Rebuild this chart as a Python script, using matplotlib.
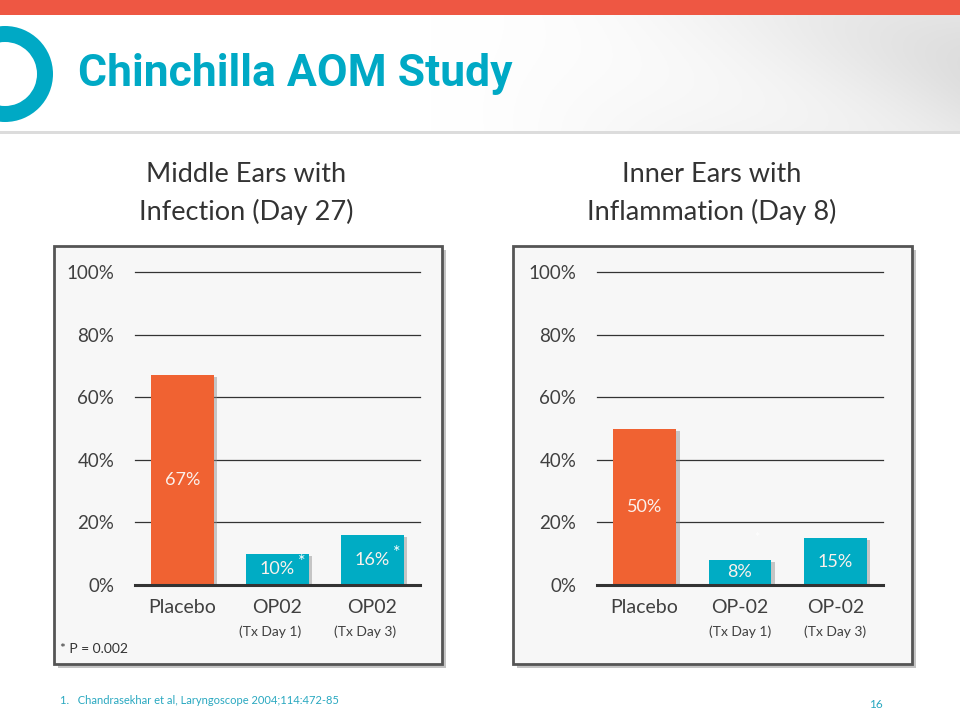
import numpy as np
import matplotlib
matplotlib.use("Agg")
import matplotlib.pyplot as plt
from matplotlib import font_manager
from matplotlib.patches import Rectangle, Wedge
import matplotlib.patheffects as pe

# ---------------- data ----------------
left_title = "Middle Ears with\nInfection (Day 27)"
right_title = "Inner Ears with\nInflammation (Day 8)"
left_categories = ["Placebo", "OP02", "OP02"]
right_categories = ["Placebo", "OP-02", "OP-02"]
sub_labels = ["", "(Tx Day 1)", "(Tx Day 3)"]
left_values = [67, 10, 16]
right_values = [50, 8, 15]
left_marks = ["", "*", "*"]
right_marks = ["", "", ""]
yticks = [0, 20, 40, 60, 80, 100]
ytick_labels = ["0%", "20%", "40%", "60%", "80%", "100%"]
bar_colors = ["#F06232", "#00ACC4", "#00ACC4"]
slide_title = "Chinchilla AOM Study"
footnote = "1.   Chandrasekhar et al, Laryngoscope 2004;114:472-85"
pnote = "* P = 0.002"
page_no = "16"

names = {f.name for f in font_manager.fontManager.ttflist}
BODY = "Lato" if "Lato" in names else "DejaVu Sans"
if "Liberation Sans Narrow" in names:
    TITLE_FONT, TITLE_SIZE = "Liberation Sans Narrow", 36
else:
    TITLE_FONT, TITLE_SIZE = "Roboto", 32
plt.rcParams["font.family"] = [BODY, "DejaVu Sans"]

W, H = 960, 720
fig = plt.figure(figsize=(9.6, 7.2), dpi=100)
fig.patch.set_facecolor("white")

# background axes in pixel coordinates
bg = fig.add_axes([0, 0, 1, 1])
bg.set_xlim(0, W)
bg.set_ylim(H, 0)
bg.axis("off")
bg.set_zorder(-10)

# header gradient swoosh
gx = np.linspace(0, 1, 400)
gy = np.linspace(0, 1, 60)
X, Y = np.meshgrid(gx, gy)
shade = np.clip((X - 0.45) / 0.55, 0, 1) ** 1.5
band = 0.5 + 0.5 * np.sin((X * 3.0 - Y * 1.2) * np.pi)
val = 1 - 0.13 * shade * (0.6 + 0.4 * band)
img = np.dstack([val, val, val])
bg.imshow(img, extent=[0, W, 132, 14], aspect="auto", zorder=0)

bg.add_patch(Rectangle((0, 0), W, 15, color="#EE5743", lw=0, zorder=1))
bg.add_patch(Rectangle((0, 131), W, 3, color="#DCDCDC", lw=0, zorder=1))
bg.add_patch(Wedge((5, 74), 48, 0, 360, width=16, color="#00A9C5", lw=0, zorder=2))
bg.text(78, 74, slide_title, fontsize=TITLE_SIZE, fontweight="bold",
        family=TITLE_FONT, color="#00A9C5", va="center", ha="left", zorder=3)

# panels
def panel(x0, x1, y0, y1):
    bg.add_patch(Rectangle((x0 + 4, y0 + 4), x1 - x0, y1 - y0, color="#C4C4C4",
                           lw=0, zorder=1))
    bg.add_patch(Rectangle((x0, y0), x1 - x0, y1 - y0, facecolor="#F7F7F7",
                           edgecolor="#555555", lw=2, zorder=2))

panel(54, 442, 246, 664)
panel(513, 912, 246, 664)

bg.text(246, 193.5, left_title, fontsize=19.5, color="#333333", ha="center",
        va="center", linespacing=1.55)
bg.text(712, 193.5, right_title, fontsize=19.5, color="#333333", ha="center",
        va="center", linespacing=1.55)

bg.text(60, 649, pnote, fontsize=10, color="#333333", ha="left", va="center")
bg.text(60, 701, footnote, fontsize=8, color="#29A8C0", ha="left", va="center")
bg.text(876, 704, page_no, fontsize=8.5, color="#29A8C0", ha="center", va="center")


def chart(px0, px1, cats, vals, marks, sub_dx):
    ax = fig.add_axes([px0 / W, 1 - 585 / H, (px1 - px0) / W, (585 - 272) / H])
    ax.set_zorder(5)
    ax.patch.set_alpha(0)
    x = np.arange(len(cats))
    bars = ax.bar(x, vals, width=0.66, color=bar_colors, zorder=3)
    for b in bars:
        b.set_path_effects([pe.SimplePatchShadow(offset=(2.5, -1.5), shadow_rgbFace="#888888",
                                                 alpha=0.45), pe.Normal()])
    ax.set_xlim(-0.5, len(cats) - 0.5)
    ax.set_ylim(0, 100)
    ax.set_yticks(yticks)
    ax.set_yticklabels(ytick_labels)
    ax.tick_params(axis="y", length=0, pad=15, labelsize=13.5, labelcolor="#404040")
    ax.set_xticks(x)
    ax.set_xticklabels(cats)
    ax.tick_params(axis="x", length=0, pad=10, labelsize=14, labelcolor="#404040")
    for s in ["top", "right", "left"]:
        ax.spines[s].set_visible(False)
    ax.spines["bottom"].set_linewidth(2.2)
    ax.spines["bottom"].set_color("#333333")
    ax.spines["bottom"].set_zorder(4)
    ax.yaxis.grid(True, color="#333333", lw=0.9, zorder=0)
    ax.set_axisbelow(True)
    for gl in ax.get_ygridlines():
        gl.set_clip_on(False)
    for xi, v, m, sub in zip(x, vals, marks, sub_labels):
        ax.text(xi, v / 2, f"{v}%", ha="center", va="center", fontsize=13,
                color="#FBF1EC", zorder=5)
        if m:
            ax.annotate(m, (xi, v / 2), xytext=(15, 5), textcoords="offset points",
                        ha="left", va="center", fontsize=13, color="white", zorder=5)
        if sub:
            ax.annotate(sub, (xi, 0), xycoords=("data", "axes fraction"),
                        xytext=(sub_dx, -34), textcoords="offset points",
                        ha="center", va="center", fontsize=10, color="#404040")
    return ax

axl = chart(135, 420, left_categories, left_values, left_marks, -5)
axr = chart(597, 883, right_categories, right_values, right_marks, 0)
# faint asterisk above the OP-02 (Tx Day 1) bar
axr.annotate("*", (1, right_values[1]), xytext=(12, 16), textcoords="offset points",
             ha="center", va="center", fontsize=9, color="#FFFFFF", zorder=5)

fig.savefig("out.png", dpi=100, facecolor="white")
